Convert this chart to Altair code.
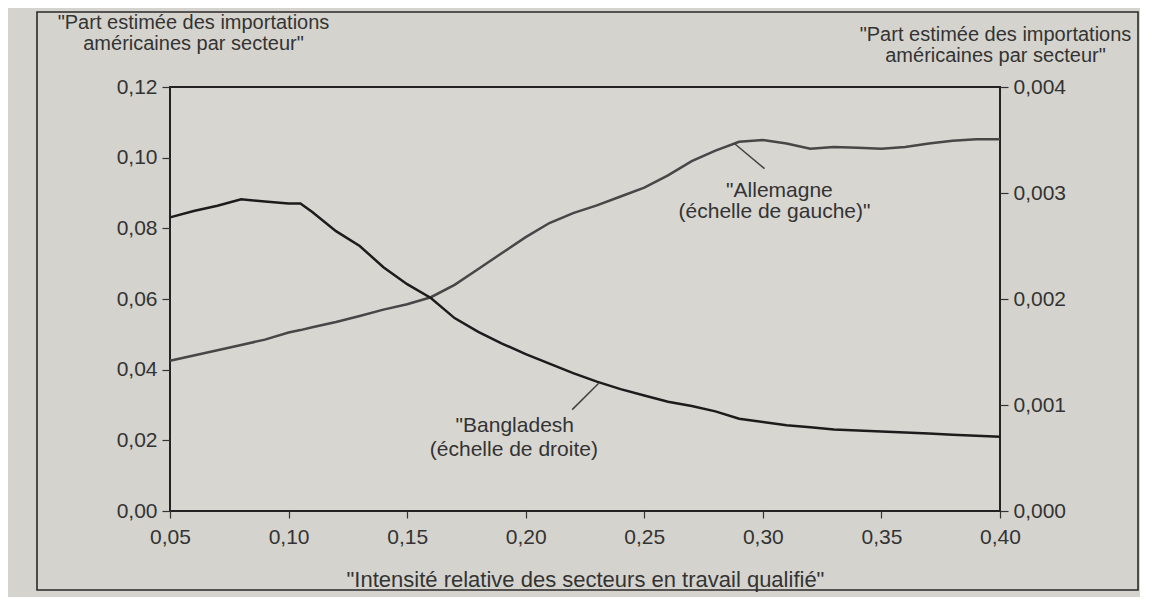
import altair as alt
import pandas as pd

# ---- data ----
x_vals = [0.05, 0.06, 0.07, 0.08, 0.09, 0.10, 0.105, 0.11, 0.12, 0.13, 0.14, 0.15, 0.16, 0.17,
          0.18, 0.19, 0.20, 0.21, 0.22, 0.23, 0.24, 0.25, 0.26, 0.27, 0.28, 0.29, 0.30,
          0.31, 0.32, 0.33, 0.34, 0.35, 0.36, 0.37, 0.38, 0.39, 0.40]

allemagne = [0.0425, 0.0440, 0.0455, 0.0470, 0.0485, 0.0505, 0.0512, 0.0520, 0.0535, 0.0552,
             0.0570, 0.0585, 0.0605, 0.0640, 0.0685, 0.0730, 0.0775, 0.0815, 0.0843, 0.0865,
             0.0890, 0.0915, 0.0950, 0.0990, 0.1020, 0.1045, 0.1050, 0.1040, 0.1025, 0.1030,
             0.1028, 0.1025, 0.1030, 0.1040, 0.1048, 0.1052, 0.1052]

bangladesh = [0.00277, 0.00283, 0.00288, 0.00294, 0.00292, 0.00290, 0.00290, 0.00282, 0.00264,
              0.00250, 0.00230, 0.00214, 0.00201, 0.00182, 0.00169, 0.00158, 0.00148, 0.00139,
              0.00130, 0.00122, 0.00115, 0.00109, 0.00103, 0.00099, 0.00094, 0.00087, 0.00084,
              0.00081, 0.00079, 0.00077, 0.00076, 0.00075, 0.00074, 0.00073, 0.00072, 0.00071,
              0.00070]

x_ticks = [0.05, 0.10, 0.15, 0.20, 0.25, 0.30, 0.35, 0.40]
left_ticks = [0.00, 0.02, 0.04, 0.06, 0.08, 0.10, 0.12]
right_ticks = [0.000, 0.001, 0.002, 0.003, 0.004]

ann_text = ['"Bangladesh', '(échelle de droite)', '"Allemagne', '(échelle de gauche)"']
ann_x = [0.1954, 0.195, 0.307, 0.3049]
ann_y = [0.0241, 0.0173, 0.0907, 0.0845]   # on left scale

lead_x = [0.231, 0.288]
lead_y = [0.0363, 0.1040]
lead_x2 = [0.2196, 0.3007]
lead_y2 = [0.0287, 0.0969]

df = pd.DataFrame({"x": x_vals, "all": allemagne, "ban": bangladesh})
ann = pd.DataFrame({"t": ann_text, "x": ann_x, "y": ann_y})
lead = pd.DataFrame({"x": lead_x, "y": lead_y, "x2": lead_x2, "y2": lead_y2})

FONT = "Liberation Sans"
TXT = "#333333"

xscale = alt.Scale(domain=[0.05, 0.40], nice=False, zero=False)
lscale = alt.Scale(domain=[0, 0.12], nice=False)
rscale = alt.Scale(domain=[0, 0.004], nice=False)

xaxis = alt.Axis(values=x_ticks, labelExpr="replace(format(datum.value, '.2f'), '.', ',')",
                 title='"Intensité relative des secteurs en travail qualifié"',
                 titleFontSize=22, titleFontWeight="normal", titleY=58, titleBaseline="top",
                 tickSize=7, labelPadding=8, grid=False, domain=False, labelFlush=False)

frame = alt.Chart(pd.DataFrame({"a": [0]})).mark_rect(
    fillOpacity=0, stroke="#2a2a2a", strokeWidth=1.6
).encode(x=alt.value(-133), x2=alt.value(968), y=alt.value(-75), y2=alt.value(503))

germ = alt.Chart(df).mark_line(color="#474747", strokeWidth=2.5).encode(
    x=alt.X("x:Q", scale=xscale, axis=xaxis),
    y=alt.Y("all:Q", scale=lscale,
            axis=alt.Axis(orient="left", values=left_ticks,
                          labelExpr="replace(format(datum.value, '.2f'), '.', ',')",
                          title=['"Part estimée des importations', 'américaines par secteur"'],
                          titleAngle=0, titleAlign="center", titleBaseline="top",
                          titleX=23, titleY=-75, titleFontSize=20, titleFontWeight="normal",
                          titleLineHeight=21, tickSize=8, labelPadding=5, grid=False,
                          domain=False, labelFlush=False)),
)

bang = alt.Chart(df).mark_line(color="#1c1c1c", strokeWidth=2.5).encode(
    x=alt.X("x:Q", scale=xscale),
    y=alt.Y("ban:Q", scale=rscale,
            axis=alt.Axis(orient="right", values=right_ticks,
                          labelExpr="replace(format(datum.value, '.3f'), '.', ',')",
                          title=['"Part estimée des importations', 'américaines par secteur"'],
                          titleAngle=0, titleAlign="center", titleBaseline="top",
                          titleX=-5, titleY=-63, titleFontSize=20, titleFontWeight="normal",
                          titleLineHeight=21, tickSize=8, labelPadding=5, grid=False,
                          domain=False, labelFlush=False)),
)

texts = alt.Chart(ann).mark_text(fontSize=21, font=FONT, color=TXT, align="center",
                                 baseline="middle").encode(
    x=alt.X("x:Q", scale=xscale),
    y=alt.Y("y:Q", scale=lscale, axis=None),
    text="t:N",
)

leaders = alt.Chart(lead).mark_rule(color="#444444", strokeWidth=1.5).encode(
    x=alt.X("x:Q", scale=xscale),
    x2="x2:Q",
    y=alt.Y("y:Q", scale=lscale, axis=None),
    y2="y2:Q",
)

chart = alt.layer(frame, germ, bang, leaders, texts).resolve_scale(y="independent").properties(
    width=830, height=424,
    autosize=alt.AutoSizeParams(type="none"),
    padding={"left": 162, "top": 79, "right": 140, "bottom": 86},
    background="#d5d3ce",
).configure_view(
    stroke="#222222", strokeWidth=2, fill="#d8d6d1"
).configure_axis(
    labelFont=FONT, titleFont=FONT, labelFontSize=21, labelColor=TXT, titleColor=TXT,
    tickColor="#333333", tickWidth=1.2,
)

chart.save("out.html", embed_options={"renderer": "svg", "actions": False})
